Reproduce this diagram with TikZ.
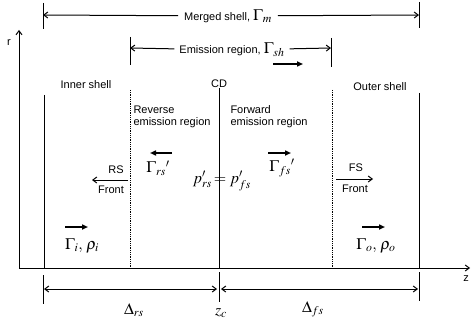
\documentclass[tikz,border=0pt]{standalone}
\usepackage{amsmath}
\usepackage{mathptmx}
\usepackage{fontspec}
\setsansfont{Liberation Sans}
\usetikzlibrary{arrows.meta}

\begin{document}
\begin{tikzpicture}[x=1pt, y=-1pt, line width=1pt,
	every node/.style={font=\sffamily\fontsize{11}{12}\selectfont, inner sep=1pt},
	>={Straight Barb[length=4pt, width=6pt]},
	flowdir/.style={-{Triangle[length=6pt, width=5pt]}, line width=1.5pt},
	bigm/.style={font=\fontsize{16}{18}\selectfont}]
	\useasboundingbox (0,0) rectangle (473,326);
	% axes
	\coordinate (O) at (19,268);
	\coordinate (rtip) at (19,30);
	\coordinate (ztip) at (470,268);
	\draw[->] (O) -- (rtip);
	\draw[->] (O) -- (ztip);
	\node (rlab) at (9,43) {r};
	\node (zlab) at (466,279) {z};
	% shells
	\draw (44,95) -- (44,268);
	\draw (219,88) -- (219,268);
	\draw (419,93) -- (419,268);
	\draw[densely dotted, line width=0.8pt] (130,90) -- (130,268);
	\draw[densely dotted, line width=0.8pt] (332,90) -- (332,268);
	\node (inner) at (86,85) {Inner shell};
	\node (cd) at (219,84) {CD};
	\node (outer) at (380,87) {Outer shell};
	\node[align=left, anchor=west] (rev) at (132,117) {Reverse\\emission region};
	\node[align=left, anchor=west] (fwd) at (229,117) {Forward\\emission region};
	% merged shell
	\draw (43,3) -- (43,29);
	\draw (419,2) -- (419,28);
	\coordinate (mL) at (43,15);
	\coordinate (mR) at (419,15);
	\node[outer sep=5pt] (merged) at (228,16) {Merged shell,\;{\fontsize{16}{18}\selectfont$\Gamma_m$}};
	\draw[->] (merged) -- (mL);
	\draw[->] (merged) -- (mR);
	% emission region
	\draw (130,37) -- (130,65);
	\draw (331,38) -- (331,67);
	\coordinate (eL) at (130,48);
	\coordinate (eR) at (331,48);
	\node[outer sep=4pt] (emis) at (232,50) {Emission region,\;{\fontsize{16}{18}\selectfont$\Gamma_{sh}$}};
	\draw[->] (emis) -- (eL);
	\draw[->] (emis) -- (eR);
	\draw[flowdir] (273,64) -- (303,64);
	% reverse / forward regions
	\node[bigm] (grs) at (158,168) {$\Gamma_{rs}{}'$};
	\draw[flowdir] (172,153) -- (150,153);
	\node[bigm] (gfs) at (282,168) {$\Gamma_{fs}{}'$};
	\draw[flowdir] (268,153) -- (291,153);
	\node[bigm] (press) at (222,181) {$p'_{rs}\!=p'_{fs}$};
	% fronts
	\coordinate (rsbase) at (128,180);
	\coordinate (rstip) at (92,180);
	\draw[->] (rsbase) -- (rstip);
	\node (rs) at (116,170) {RS};
	\node (rsf) at (111,190) {Front};
	\coordinate (fsbase) at (336,179);
	\coordinate (fstip) at (373,179);
	\draw[->] (fsbase) -- (fstip);
	\node (fs) at (356,168) {FS};
	\node (fsf) at (355,189) {Front};
	% shells moving
	\draw[flowdir] (65,227) -- (88,227);
	\node[bigm] (gi) at (82,246) {$\Gamma_i,\,\rho_i$};
	\draw[flowdir] (362,227) -- (385,227);
	\node[bigm] (go) at (376,246) {$\Gamma_o,\,\rho_o$};
	% widths
	\draw (43,275) -- (43,304);
	\draw (219,272) -- (219,302);
	\draw (419,272) -- (419,301);
	\coordinate (dA) at (43,289);
	\coordinate (dB) at (219,289);
	\coordinate (dC) at (419,289);
	\draw[<->, shorten <=1pt, shorten >=2pt] (dA) -- (dB);
	\draw[<->, shorten <=2pt, shorten >=1pt] (dB) -- (dC);
	\node[bigm] (drs) at (134,310) {$\Delta_{rs}$};
	\node[bigm] (zc) at (221,313) {$z_c$};
	\node[bigm] (dfs) at (313,309) {$\Delta_{fs}$};
\end{tikzpicture}
\end{document}
